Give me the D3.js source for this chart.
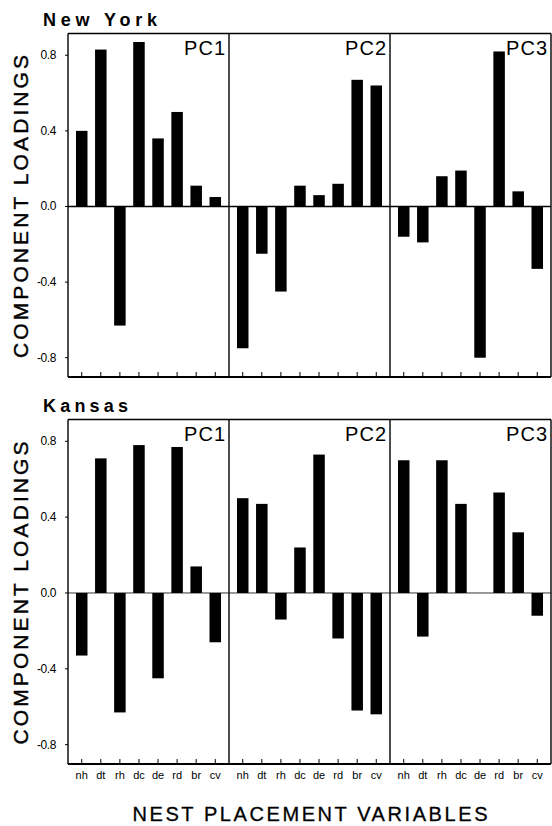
<!DOCTYPE html>
<html>
<head>
<meta charset="utf-8">
<script src="https://cdn.jsdelivr.net/npm/d3@7"></script>
<style>
  html, body { margin: 0; padding: 0; background: #fff; }
  svg { display: block; }
  text { font-family: "Liberation Sans", Arial, Helvetica, sans-serif; fill: #000; }
</style>
</head>
<body>
<svg id="chart" width="552" height="826"></svg>
<script>
// ---- data ----
const categories = ["nh", "dt", "rh", "dc", "de", "rd", "br", "cv"];
const components = ["PC1", "PC2", "PC3"];
const regions = ["New York", "Kansas"];
const yTickValues = [0.8, 0.4, 0.0, -0.4, -0.8];
const yTickLabels = ["0.8", "0.4", "0.0", "-0.4", "-0.8"];

const newYorkPC1 = [0.40, 0.83, -0.63, 0.87, 0.36, 0.50, 0.11, 0.05];
const newYorkPC2 = [-0.75, -0.25, -0.45, 0.11, 0.06, 0.12, 0.67, 0.64];
const newYorkPC3 = [-0.16, -0.19, 0.16, 0.19, -0.80, 0.82, 0.08, -0.33];
const kansasPC1 = [-0.33, 0.71, -0.63, 0.78, -0.45, 0.77, 0.14, -0.26];
const kansasPC2 = [0.50, 0.47, -0.14, 0.24, 0.73, -0.24, -0.62, -0.64];
const kansasPC3 = [0.70, -0.23, 0.70, 0.47, 0.0, 0.53, 0.32, -0.12];

const yTitle = "COMPONENT LOADINGS";
const xTitle = "NEST PLACEMENT VARIABLES";

// ---- layout ----
const svg = d3.select("#chart");
const left = 68, right = 551;
const groups = [
  { name: regions[0], top: 33.5, bottom: 377, series: [newYorkPC1, newYorkPC2, newYorkPC3], xLabels: false },
  { name: regions[1], top: 419.5, bottom: 764, series: [kansasPC1, kansasPC2, kansasPC3], xLabels: true }
];

const panelX = d3.scaleBand().domain(components).range([left, right]).padding(0);
const catX = d3.scalePoint().domain(categories).range([0, panelX.bandwidth()]).padding(0.72);
const barW = 11.5;

groups.forEach((grp, gi) => {
  const y = d3.scaleLinear().domain([-0.902, 0.915]).range([grp.bottom, grp.top]);
  const g = svg.append("g");

  // region title
  g.append("text")
    .attr("x", 43).attr("y", grp.top - 8)
    .attr("font-size", 18).attr("font-weight", "bold")
    .attr("textLength", gi === 0 ? 114 : 85).attr("lengthAdjust", "spacing")
    .text(grp.name);

  // bars
  components.forEach((pc, pi) => {
    const px = panelX(pc);
    const vals = grp.series[pi];
    g.append("g").selectAll("rect")
      .data(categories.map((c, i) => ({ c, v: vals[i] })))
      .join("rect")
      .attr("x", d => px + catX(d.c) - barW / 2)
      .attr("width", barW)
      .attr("y", d => Math.min(y(d.v), y(0)))
      .attr("height", d => Math.abs(y(d.v) - y(0)))
      .attr("fill", "#000");

    // bottom ticks (inside, upward)
    g.append("g").selectAll("line")
      .data(categories)
      .join("line")
      .attr("x1", c => px + catX(c)).attr("x2", c => px + catX(c))
      .attr("y1", grp.bottom).attr("y2", grp.bottom - 5)
      .attr("stroke", "#000").attr("stroke-width", 1);

    // PC label
    g.append("text")
      .attr("x", px + panelX.bandwidth() - 3)
      .attr("y", grp.top + 21)
      .attr("text-anchor", "end")
      .attr("font-size", 20)
      .attr("letter-spacing", 1)
      .text(pc);

    // x labels
    if (grp.xLabels) {
      g.append("g").selectAll("text")
        .data(categories)
        .join("text")
        .attr("x", c => px + catX(c))
        .attr("y", grp.bottom + 15)
        .attr("text-anchor", "middle")
        .attr("font-size", 11)
        .text(c => c);
    }
  });

  // zero line
  g.append("line")
    .attr("x1", left).attr("x2", right)
    .attr("y1", y(0)).attr("y2", y(0))
    .attr("stroke", "#000").attr("stroke-width", gi === 0 ? 1.4 : 0.8);

  // frame
  g.append("line").attr("x1", left).attr("x2", right).attr("y1", grp.top).attr("y2", grp.top)
    .attr("stroke", "#000").attr("stroke-width", 1.6);
  g.append("line").attr("x1", left).attr("x2", right).attr("y1", grp.bottom).attr("y2", grp.bottom)
    .attr("stroke", "#000").attr("stroke-width", 2);
  [left, panelX("PC2"), panelX("PC3"), right].forEach(xv => {
    g.append("line").attr("x1", xv).attr("x2", xv).attr("y1", grp.top).attr("y2", grp.bottom)
      .attr("stroke", "#000").attr("stroke-width", 1.4);
  });

  // y tick labels and small ticks
  yTickValues.forEach((v, i) => {
    g.append("text")
      .attr("x", 56).attr("y", y(v) + 4)
      .attr("text-anchor", "end")
      .attr("font-size", 12)
      .attr("letter-spacing", -0.4)
      .text(yTickLabels[i]);
    g.append("line").attr("x1", left - 3).attr("x2", left).attr("y1", y(v)).attr("y2", y(v))
      .attr("stroke", "#000").attr("stroke-width", 1);
  });

  // y axis title
  g.append("text")
    .attr("transform", `translate(28,${y(0)}) rotate(-90)`)
    .attr("text-anchor", "middle")
    .attr("font-size", 21)
    .attr("stroke", "#000").attr("stroke-width", 0.4)
    .attr("textLength", 303).attr("lengthAdjust", "spacing")
    .text(yTitle);
});

// x axis title
svg.append("text")
  .attr("x", 310).attr("y", 821)
  .attr("text-anchor", "middle")
  .attr("font-size", 20)
  .attr("stroke", "#000").attr("stroke-width", 0.3)
  .attr("textLength", 355).attr("lengthAdjust", "spacing")
  .text(xTitle);
</script>
</body>
</html>
